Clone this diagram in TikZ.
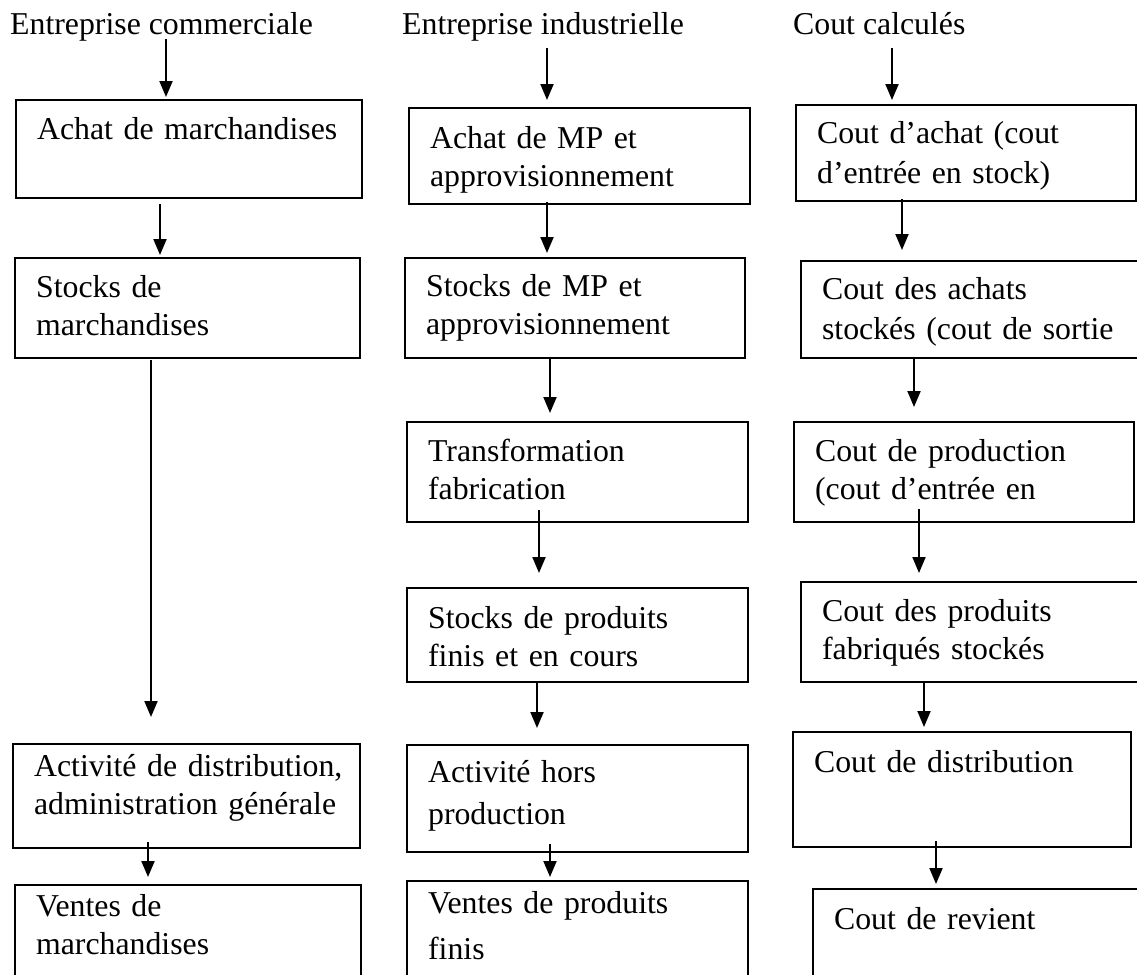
\documentclass[tikz,border=0pt]{standalone}
\usepackage{fontspec}
\setmainfont{Liberation Serif}
\usetikzlibrary{arrows.meta}

\begin{document}
\begin{tikzpicture}[x=1pt, y=-1pt,
    font=\fontsize{31.8}{38}\selectfont,
    title/.style={anchor=base west, inner sep=0pt},
    box/.style={draw, line width=2.2pt, anchor=north west, inner xsep=21pt, inner ysep=0pt, align=left},
    flow/.style={line width=2pt, -{Triangle[length=16pt, width=13pt]}}]
    \useasboundingbox (0,0) rectangle (1137,974);

    % column titles
    \node[title] (t1) at (10,35) {Entreprise commerciale};
    \node[title] (t2) at (402,35) {Entreprise industrielle};
    \node[title] (t3) at (793,35) {Cout calculés};

    % entreprise commerciale
    \node[box, text width=304pt, text height=39pt, text depth=59pt] (c1a) at (15,99) {Achat de marchandises};
    \node[box, text width=303pt, text height=39pt, text depth=61pt] (c1b) at (14,257) {Stocks de\\marchandises};
    \node[box, text width=305pt, text height=32pt, text depth=72pt] (c1c) at (12,743) {\mbox{Activité de distribution,}\\\mbox{administration générale}};
    \node[box, text width=304pt, text height=31pt, text depth=89pt] (c1d) at (14,884) {Ventes de\\marchandises};
    \draw[flow, shorten <=-3pt, shorten >=2pt] (t1.south -| 166,0) -- (c1a.north -| 166,0);
    \draw[flow, shorten <=5pt, shorten >=2pt] (c1a.south -| 160,0) -- (c1b.north -| 160,0);
    \draw[flow, shorten <=1pt, shorten >=26pt] (c1b.south -| 151,0) -- (c1c.north -| 151,0);
    \draw[flow, shorten <=-7pt, shorten >=7pt] (c1c.south -| 148,0) -- (c1d.north -| 148,0);

    % entreprise industrielle
    \node[box, text width=299pt, text height=40pt, text depth=56pt] (c2a) at (408,107) {Achat de MP et\\approvisionnement};
    \node[box, text width=298pt, text height=38pt, text depth=62pt] (c2b) at (404,257) {Stocks de MP et\\approvisionnement};
    \node[box, text width=299pt, text height=39pt, text depth=61pt] (c2c) at (406,421) {Transformation\\fabrication};
    \node[box, text width=299pt, text height=40pt, text depth=54pt] (c2d) at (406,587) {Stocks de produits\\finis et en cours};
    \node[box, text width=299pt, text height=37pt, text depth=70pt] (c2e) at (406,744) {Activité hors\\[4pt]production};
    \node[box, text width=299pt, text height=32pt, text depth=88pt] (c2f) at (406,880) {Ventes de produits\\[8pt]finis};
    \draw[flow, shorten <=6pt, shorten >=7pt] (t2.south -| 547,0) -- (c2a.north -| 547,0);
    \draw[flow, shorten <=-3pt, shorten >=4pt] (c2a.south -| 547,0) -- (c2b.north -| 547,0);
    \draw[flow, shorten <=0pt, shorten >=8pt] (c2b.south -| 550,0) -- (c2c.north -| 550,0);
    \draw[flow, shorten <=-13pt, shorten >=14pt] (c2c.south -| 539,0) -- (c2d.north -| 539,0);
    \draw[flow, shorten <=0pt, shorten >=16pt] (c2d.south -| 537,0) -- (c2e.north -| 537,0);
    \draw[flow, shorten <=-9pt, shorten >=3pt] (c2e.south -| 550,0) -- (c2f.north -| 550,0);

    % couts calcules
    \node[box, text width=298pt, text height=38pt, text depth=58pt] (c3a) at (795,104) {Cout d’achat (cout\\[2pt]d’entrée en stock)};
    \node[box, text width=303pt, text height=38pt, text depth=59pt] (c3b) at (800,260) {Cout des achats\\[2pt]stockés (cout de sortie};
    \node[box, text width=298pt, text height=39pt, text depth=61pt] (c3c) at (793,421) {Cout de production\\(cout d’entrée en};
    \node[box, text width=303pt, text height=39pt, text depth=61pt] (c3d) at (800,581) {Cout des produits\\fabriqués stockés};
    \node[box, text width=296pt, text height=40pt, text depth=75pt] (c3e) at (792,731) {Cout de distribution};
    \node[box, text width=303pt, text height=40pt, text depth=80pt] (c3f) at (812,888) {Cout de revient};
    \draw[flow, shorten <=12pt, shorten >=4pt] (t3.south -| 892,0) -- (c3a.north -| 892,0);
    \draw[flow, shorten <=-3pt, shorten >=10pt] (c3a.south -| 902,0) -- (c3b.north -| 902,0);
    \draw[flow, shorten <=0pt, shorten >=14pt] (c3b.south -| 914,0) -- (c3c.north -| 914,0);
    \draw[flow, shorten <=-14pt, shorten >=8pt] (c3c.south -| 919,0) -- (c3d.north -| 919,0);
    \draw[flow, shorten <=0pt, shorten >=4pt] (c3d.south -| 924,0) -- (c3e.north -| 924,0);
    \draw[flow, shorten <=-7pt, shorten >=4pt] (c3e.south -| 936,0) -- (c3f.north -| 936,0);
\end{tikzpicture}
\end{document}
